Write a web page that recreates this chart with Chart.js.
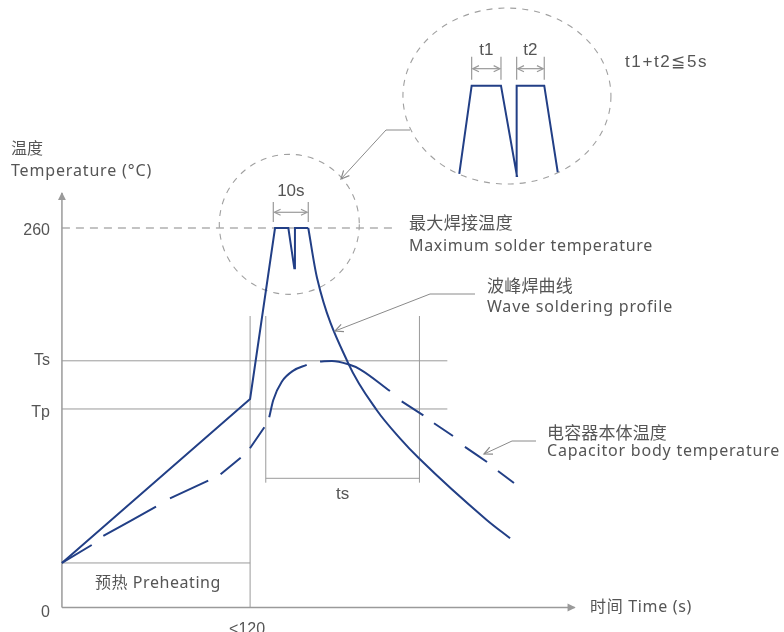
<!DOCTYPE html>
<html><head><meta charset="utf-8">
<script src="https://cdn.jsdelivr.net/npm/chart.js@4/dist/chart.umd.min.js"></script>
<style>html,body{margin:0;padding:0;background:#fff}canvas{display:block}</style>
</head><body>
<canvas id="c" width="784" height="632"></canvas>
<script>
// ---- data (schematic: time in s, temperature in °C) ----
const waveRiseTime = [0, 120, 135.9, 144.4, 148.2, 148.6, 157.1];
const waveRiseTemp = [30.5, 142.9, 260, 260, 232.4, 260, 260];
const waveFallTime = [157.1, 162.7, 182.6, 200.7, 215.6, 227.7, 270.9, 285.8];
const waveFallTemp = [260, 225.8, 167.3, 135.3, 115.9, 102.2, 60.0, 47.4];
// capacitor body temperature: dashed, gaps marked with null
const capTime = [0, 19, null, 26.4, 60, null, 68.9, 93.3, null, 101.2, 114, null, 119.9, 129.1, null,
  132.2, 134.8, 140.2, 147.6, 156.1, null, 164.6, 172.2, 182.6, 190.1, 209.2, null, 216.7, 230.5, null,
  237.3, 249.4, null, 257, 271.1, null, 278.1, 288.3];
const capTemp = [30.5, 42.8, null, 49.0, 69.1, null, 74.8, 86.9, null, 91.3, 102.6, null, 109.1, 123.5, null,
  130.3, 142.2, 154.7, 162.3, 166.2, null, 168.5, 168.9, 166.6, 163.2, 148.3, null, 141.2, 131.6, null,
  126.2, 117.5, null, 110.0, 99.7, null, 93.5, 85.3];
// magnified double-wave detail (inset)
const insetTime = [253.4, 261.3, 280.0, 290.2, 290.0, 307.6, 316.2];
const insetTemp = [297.0, 357.5, 357.5, 295.6, 357.5, 357.5, 298.2];
// tick labels
const tickLabels = ['260', 'Ts', 'Tp', '0'];
const tickValues = [260, 169, 136, 0];
const preheatTemp = 30.5, preheatEnd = 120, tsStart = 130, tsEnd = 228;
const guideTop = 199.7, tsBottom = 88.5, guideRight = 245.8, maxDashEnd = 214;
const peakWindow = [134.8, 157.1];

const pts = (xs, ys) => xs.map((x, i) => ({x: x, y: ys[i]}));
const BLUE = '#223f86', GRAY = '#9a9a9a', TXT = '#555';
const EN = '"Noto Sans", "Noto Sans CJK SC", sans-serif';
const CJK = '"Noto Sans CJK SC", sans-serif';
const NUM = '"Liberation Sans", Arial, sans-serif';

function line(ctx, p, color, w, dash) {
  ctx.save(); ctx.beginPath(); ctx.strokeStyle = color; ctx.lineWidth = w;
  ctx.setLineDash(dash || []);
  ctx.moveTo(p[0][0], p[0][1]);
  for (let i = 1; i < p.length; i++) ctx.lineTo(p[i][0], p[i][1]);
  ctx.stroke(); ctx.restore();
}
function chevron(ctx, tip, from, color, len, filled) {
  const a = Math.atan2(tip[1] - from[1], tip[0] - from[0]);
  const s = 0.45;
  const p1 = [tip[0] - len * Math.cos(a - s), tip[1] - len * Math.sin(a - s)];
  const p2 = [tip[0] - len * Math.cos(a + s), tip[1] - len * Math.sin(a + s)];
  ctx.save(); ctx.strokeStyle = color; ctx.fillStyle = color; ctx.lineWidth = 1.2;
  ctx.beginPath(); ctx.moveTo(p1[0], p1[1]); ctx.lineTo(tip[0], tip[1]); ctx.lineTo(p2[0], p2[1]);
  if (filled) { ctx.closePath(); ctx.fill(); } else ctx.stroke();
  ctx.restore();
}
function txt(ctx, s, x, y, o) {
  ctx.save();
  ctx.font = o.font; ctx.fillStyle = o.color || TXT;
  ctx.textAlign = o.align || 'left'; ctx.textBaseline = o.base || 'alphabetic';
  if (o.width) {
    ctx.letterSpacing = '0px';
    const w = ctx.measureText(s).width;
    const ls = Math.max(-1.5, Math.min(3, (o.width - w) / s.length));
    ctx.letterSpacing = ls.toFixed(2) + 'px';
  }
  ctx.fillText(s, x, y);
  ctx.restore();
}

const decor = {
  id: 'decor',
  beforeDatasetsDraw(chart) {
    const ctx = chart.ctx;
    const X = v => chart.scales.x.getPixelForValue(v);
    const Y = v => chart.scales.y.getPixelForValue(v);
    // guide lines
    line(ctx, [[X(0), Y(169)], [X(guideRight), Y(169)]], GRAY, 1);
    line(ctx, [[X(0), Y(136)], [X(guideRight), Y(136)]], GRAY, 1);
    line(ctx, [[X(0), Y(260)], [X(maxDashEnd), Y(260)]], '#b0b0b0', 1.5, [8, 6]);
    line(ctx, [[X(0), Y(preheatTemp)], [X(preheatEnd), Y(preheatTemp)]], GRAY, 1);
    line(ctx, [[X(preheatEnd), Y(0)], [X(preheatEnd), Y(guideTop)]], GRAY, 1);
    line(ctx, [[X(tsStart), Y(guideTop)], [X(tsStart), Y(85.5)]], GRAY, 1);
    line(ctx, [[X(tsEnd), Y(guideTop)], [X(tsEnd), Y(85.5)]], GRAY, 1);
    line(ctx, [[X(tsStart), Y(tsBottom)], [X(tsEnd), Y(tsBottom)]], GRAY, 1);
    // axes
    line(ctx, [[X(0), Y(0)], [X(0), Y(284)]], GRAY, 1.5);
    chevron(ctx, [X(0), Y(284) - 1], [X(0), Y(0)], GRAY, 9, true);
    line(ctx, [[X(0), Y(0)], [X(327), Y(0)]], GRAY, 1.5);
    chevron(ctx, [X(327) + 1, Y(0)], [X(0), Y(0)], GRAY, 9, true);
    // dashed circles
    ctx.save(); ctx.strokeStyle = '#a0a0a0'; ctx.lineWidth = 1.1; ctx.setLineDash([6, 6]);
    ctx.beginPath(); ctx.arc(X(145), Y(262.5), 70, 0, Math.PI * 2); ctx.stroke();
    ctx.beginPath(); ctx.ellipse(X(283.8), Y(350.4), 104, 88, 0, 0, Math.PI * 2); ctx.stroke();
    ctx.restore();
  },
  afterDatasetsDraw(chart) {
    const ctx = chart.ctx;
    const X = v => chart.scales.x.getPixelForValue(v);
    const Y = v => chart.scales.y.getPixelForValue(v);
    // bracket: 10s
    const bt = Y(260) - 26, bb = Y(260) - 6, by = Y(260) - 15.7;
    const b1 = X(peakWindow[0]), b2 = X(peakWindow[1]);
    line(ctx, [[b1, bt], [b1, bb]], GRAY, 1.2);
    line(ctx, [[b2, bt], [b2, bb]], GRAY, 1.2);
    line(ctx, [[b1 + 2, by], [b2 - 2, by]], GRAY, 1.2);
    chevron(ctx, [b1 + 1, by], [b2, by], GRAY, 7, false);
    chevron(ctx, [b2 - 1, by], [b1, by], GRAY, 7, false);
    txt(ctx, '10s', (b1 + b2) / 2, by - 16.5, {font: '17px ' + NUM, align: 'center', width: 27});
    // brackets t1, t2 in inset
    const it = Y(357.5) - 29, ib = Y(357.5) - 6, iy = Y(357.5) - 17;
    [[insetTime[1], insetTime[2], 't1'], [insetTime[4], insetTime[5], 't2']].forEach(b => {
      const a = X(b[0]), c = X(b[1]);
      line(ctx, [[a, it], [a, ib]], GRAY, 1.2);
      line(ctx, [[c, it], [c, ib]], GRAY, 1.2);
      line(ctx, [[a + 2, iy], [c - 2, iy]], GRAY, 1.2);
      chevron(ctx, [a + 1, iy], [c, iy], GRAY, 7, false);
      chevron(ctx, [c - 1, iy], [a, iy], GRAY, 7, false);
      txt(ctx, b[2], (a + c) / 2, iy - 14, {font: '17px ' + NUM, align: 'center'});
    });
    txt(ctx, 't1+t2≦5s', 625, 67, {font: '17px ' + NUM, width: 83});
    // callouts
    line(ctx, [[410, 130], [386, 130], [341, 179]], '#8a8a8a', 1);
    chevron(ctx, [341, 179], [386, 130], '#8a8a8a', 9, false);
    line(ctx, [[475, 294], [430, 294], [335, 331]], '#8a8a8a', 1);
    chevron(ctx, [335, 331], [430, 294], '#8a8a8a', 9, false);
    line(ctx, [[536, 441], [512, 441], [484, 454]], '#8a8a8a', 1);
    chevron(ctx, [484, 454], [512, 441], '#8a8a8a', 9, false);
    // axis tick labels
    const tickBase = [7, 4, 8, 9.5];
    tickLabels.forEach((s, i) => {
      txt(ctx, s, 50, Y(tickValues[i]) + tickBase[i], {font: '16px ' + NUM, align: 'right'});
    });
    txt(ctx, '<120', X(preheatEnd) - 3, 634, {font: '16px ' + NUM, align: 'center'});
    txt(ctx, 'ts', (X(tsStart) + X(tsEnd)) / 2, 499, {font: '17px ' + NUM, align: 'center'});
    // titles & annotations
    txt(ctx, '温度', 11, 148, {font: '16px ' + CJK, base: 'middle'});
    txt(ctx, 'Temperature (°C)', 11, 176, {font: '16px ' + EN, width: 141});
    txt(ctx, '最大焊接温度', 409, 223, {font: '17px ' + CJK, base: 'middle', width: 104});
    txt(ctx, 'Maximum solder temperature', 409, 251, {font: '16px ' + EN, width: 244});
    txt(ctx, '波峰焊曲线', 487, 286, {font: '17px ' + CJK, base: 'middle', width: 86});
    txt(ctx, 'Wave soldering profile', 487, 312, {font: '16px ' + EN, width: 186});
    txt(ctx, '电容器本体温度', 547, 433, {font: '17px ' + CJK, base: 'middle', width: 120});
    txt(ctx, 'Capacitor body temperature', 547, 456, {font: '16px ' + EN, width: 233});
    txt(ctx, '预热 Preheating', 95, 583, {font: '16px ' + EN, base: 'middle', width: 126});
    txt(ctx, '时间 Time (s)', 590, 607, {font: '16px ' + EN, base: 'middle', width: 102});
  }
};

new Chart(document.getElementById('c'), {
  type: 'line',
  data: {
    datasets: [
      {data: pts(waveRiseTime, waveRiseTemp), borderColor: BLUE, borderWidth: 2, tension: 0},
      {data: pts(waveFallTime, waveFallTemp), borderColor: BLUE, borderWidth: 2, cubicInterpolationMode: 'monotone'},
      {data: pts(capTime, capTemp), borderColor: BLUE, borderWidth: 2, cubicInterpolationMode: 'monotone', spanGaps: false},
      {data: pts(insetTime, insetTemp), borderColor: BLUE, borderWidth: 2, tension: 0}
    ]
  },
  options: {
    responsive: false, animation: false, devicePixelRatio: 1,
    layout: {padding: 0},
    elements: {point: {radius: 0, hoverRadius: 0}, line: {fill: false, borderCapStyle: 'butt'}},
    plugins: {legend: {display: false}, tooltip: {enabled: false}},
    scales: {
      x: {type: 'linear', min: -39.5, max: 460.5, display: false},
      y: {type: 'linear', min: -16.8, max: 416.2, display: false}
    }
  },
  plugins: [decor]
});
</script>
</body></html>
